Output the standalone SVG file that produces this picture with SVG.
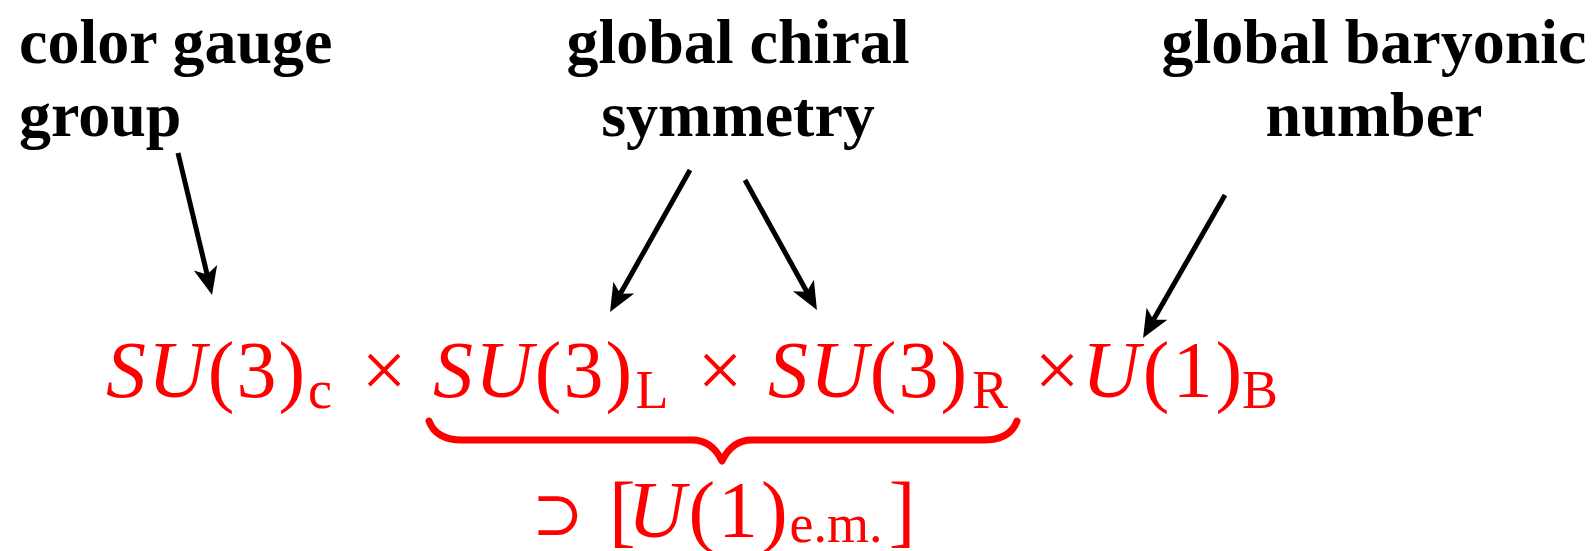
<svg xmlns="http://www.w3.org/2000/svg" width="1596" height="551" viewBox="0 0 1596 551">
<defs>
<style>
.lbl{font-family:"Liberation Serif","DejaVu Serif",serif;font-weight:bold;font-size:64px;fill:#000}
.m{font-family:"Liberation Serif","DejaVu Serif",serif;font-size:80px;fill:#ff0000}
.ls{letter-spacing:2px}
.ls3{letter-spacing:3px}
.c{text-anchor:middle}
.it{font-style:italic}
.sub{font-size:54px}
.conn{stroke:#000;stroke-width:5;fill:none;marker-end:url(#ah)}
.brace{stroke:#ff0000;stroke-width:7;fill:none;stroke-linecap:round;stroke-linejoin:round}
</style>
<marker id="ah" markerUnits="userSpaceOnUse" orient="auto" overflow="visible" markerWidth="30" markerHeight="26" refX="0" refY="0">
<path d="M16,0 L-12,-12 L-5,0 L-12,12 Z" fill="#000"/>
</marker>
</defs>
<rect width="1596" height="551" fill="#fff"/>

<g id="label-color-gauge">
<text class="lbl" x="19" y="63">color gauge</text>
<text class="lbl" x="19" y="136">group</text>
</g>
<g id="label-chiral">
<text class="lbl" x="738" y="63" text-anchor="middle">global chiral</text>
<text class="lbl" x="738" y="136" text-anchor="middle">symmetry</text>
</g>
<g id="label-baryonic">
<text class="lbl" x="1374" y="63" text-anchor="middle">global baryonic</text>
<text class="lbl" x="1374" y="136" text-anchor="middle">number</text>
</g>

<g id="connectors">
<path class="conn" d="M178,153 L208.3,279.4"/>
<path class="conn" d="M690,170 L617.9,298.1"/>
<path class="conn" d="M745,180 L809.2,296"/>
<path class="conn" d="M1225,195 L1151,324.1"/>
</g>

<g id="su3c">
<text class="m ls" x="106" y="397"><tspan class="it">SU</tspan>(3)</text>
<text class="m sub c" x="320" y="408">c</text>
</g>
<text class="m c" x="384" y="397">×</text>
<g id="su3l">
<text class="m ls" x="433" y="397"><tspan class="it">SU</tspan>(3)</text>
<text class="m sub c" x="652" y="408">L</text>
</g>
<text class="m c" x="720" y="397">×</text>
<g id="su3r">
<text class="m ls" x="768" y="397"><tspan class="it">SU</tspan>(3)</text>
<text class="m sub c" x="990" y="408">R</text>
</g>
<text class="m c" x="1057" y="397">×</text>
<g id="u1b">
<text class="m ls3" x="1082" y="397"><tspan class="it">U</tspan>(1)</text>
<text class="m sub c" x="1260" y="408">B</text>
</g>

<g id="brace">
<path class="brace" d="M429,421 Q436,440 462,440 L692,440 Q712,440 722,461 Q732,440 752,440 L984,440 Q1010,440 1017,421"/>
</g>

<g id="u1em">
<text class="m c" x="558" y="535" style="font-size:62px">⊃</text>
<text class="m ls3" x="609" y="537"><tspan style="letter-spacing:-8px">[</tspan><tspan class="it">U</tspan>(1)</text>
<text class="m sub c" x="836" y="542">e.m.</text>
<text class="m c" x="902" y="537">]</text>
</g>
</svg>
